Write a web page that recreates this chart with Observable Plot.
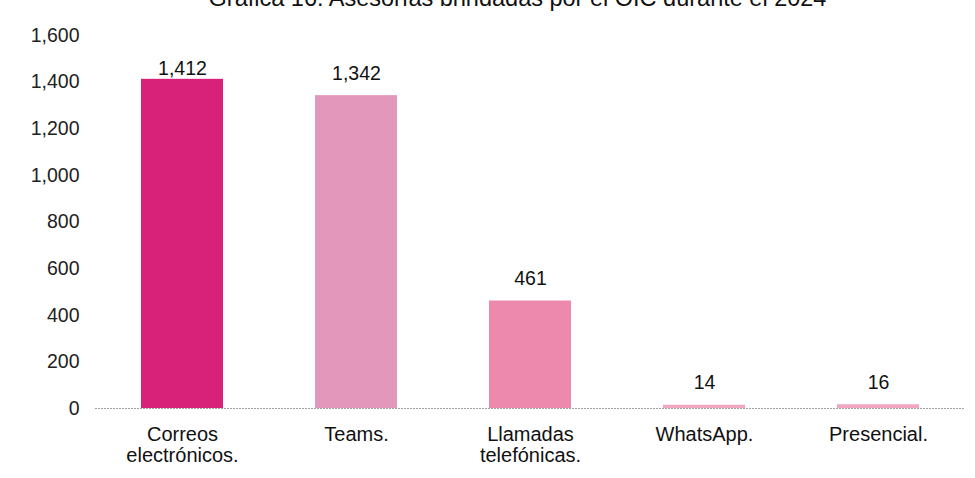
<!DOCTYPE html>
<html>
<head>
<meta charset="utf-8">
<script src="https://cdn.jsdelivr.net/npm/d3@7"></script>
<script src="https://cdn.jsdelivr.net/npm/@observablehq/plot@0.6"></script>
<style>
  html, body { margin: 0; padding: 0; background: #fff; }
  #title-wrap { height: 12px; overflow: hidden; width: 975px; }
  #title { margin-top: -15px; line-height: 28px; font: 23.5px "Liberation Sans", Arial, sans-serif; color: #111; text-align: center; padding-left: 60px; }
</style>
</head>
<body>
<div id="title-wrap"><div id="title">Gráfica 16. Asesorías brindadas por el OIC durante el 2024</div></div>
<div id="chart"></div>
<script>
const categories = ["Correos\nelectrónicos.", "Teams.", "Llamadas\ntelefónicas.", "WhatsApp.", "Presencial."];
const values = [1412, 1342, 461, 14, 16];
const colors = ["#d8227a", "#e397ba", "#ee89ae", "#f2a6c2", "#f2a6c2"];
const yTicks = [0, 200, 400, 600, 800, 1000, 1200, 1400, 1600];

const data = categories.map((c, i) => ({category: c, value: values[i], color: colors[i]}));
const fmt = d3.format(",");

const chart = Plot.plot({
  width: 975,
  height: 466,
  marginTop: 23,
  marginBottom: 70,
  marginLeft: 95,
  marginRight: 10,
  style: {fontFamily: "'Liberation Sans', Arial, sans-serif", fontSize: "19px", color: "#111", background: "#fff"},
  x: {domain: categories, paddingInner: 0.53, paddingOuter: 0.265, label: null},
  y: {domain: [0, 1600], label: null},
  marks: [
    Plot.barY(data, {x: "category", y: "value", fill: "color"}),
    Plot.ruleY([0], {stroke: "#a0a0a0", strokeWidth: 1.2, strokeDasharray: "2,1"}),
    Plot.text(data, {x: "category", y: d => Math.min(d.value + 95, 1458), text: d => fmt(d.value), fill: "#111", fontSize: 19.5}),
    Plot.axisY({ticks: yTicks, tickFormat: fmt, tickSize: 0, tickPadding: 16, fontSize: 19.5, fill: "#222"}),
    Plot.axisX({tickSize: 0, tickPadding: 18, fontSize: 20, fill: "#111", lineHeight: 1.05})
  ]
});
document.getElementById("chart").appendChild(chart);
</script>
</body>
</html>
